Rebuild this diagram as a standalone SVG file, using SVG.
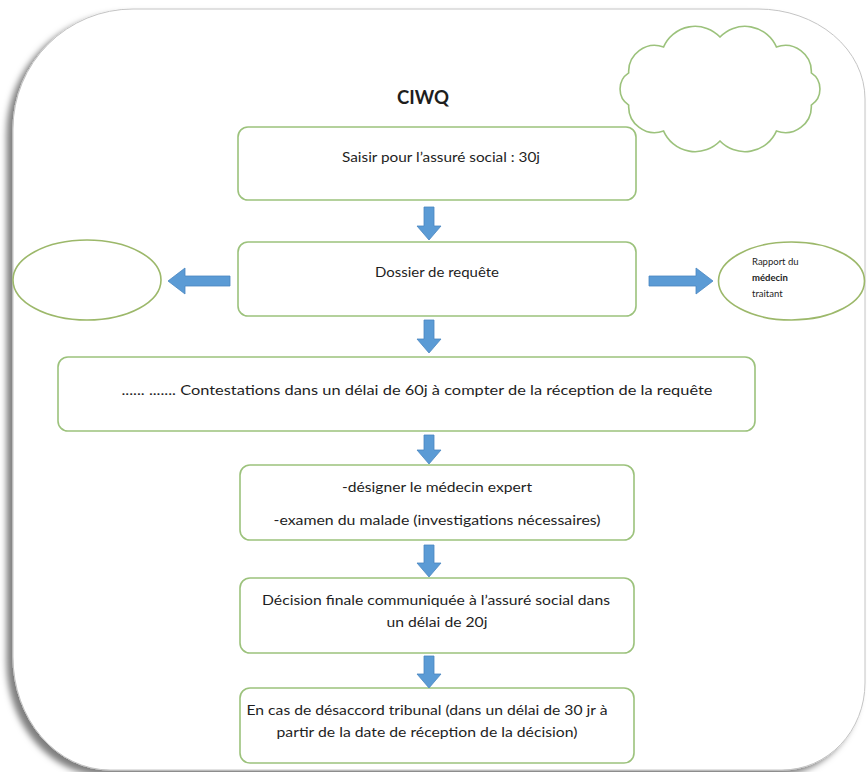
<svg xmlns="http://www.w3.org/2000/svg" width="867" height="772" viewBox="0 0 867 772">
<defs>
<filter id="sh" x="-5%" y="-5%" width="110%" height="110%">
<feDropShadow dx="-6" dy="5" stdDeviation="3" flood-color="#000" flood-opacity="0.5"/>
</filter>
<style>
.box{fill:#fff;stroke:#9cc27c;stroke-width:1.6}
.ell{fill:#fff;stroke:#9cb86a;stroke-width:1.6}
.arr{fill:#5b9bd5;stroke:#4a86c0;stroke-width:0.8}
.t{font-family:Lato,"Liberation Sans",Arial,sans-serif;font-size:14px;fill:#1e1e1e;text-anchor:middle}
.s{font-family:Lato,"Liberation Sans",Arial,sans-serif;font-size:9.5px;fill:#1e1e1e}
</style>
</defs>
<rect width="867" height="772" fill="#fff"/>
<g id="frame">
<path d="M13,129 A120,120 0 0 1 133,9 L758,9 A107,90 0 0 1 865,99 L865,683 A83,87 0 0 1 782,770 L110,770 A97,113 0 0 1 13,657 Z" fill="#fff" stroke="#c4c4c4" stroke-width="1" filter="url(#sh)"/>
</g>
<g id="cloud">
<path d="M720,37 A34.4,34.4 0 0 1 776.4,46.9 A26.1,26.1 0 0 1 811.3,72.9 A19.3,19.3 0 0 1 811.3,105.1 A26.1,26.1 0 0 1 776.4,131.1 A34.4,34.4 0 0 1 720,141 A34.4,34.4 0 0 1 663.6,131.1 A26.1,26.1 0 0 1 628.7,105.1 A19.3,19.3 0 0 1 628.7,72.9 A26.1,26.1 0 0 1 663.6,46.9 A34.4,34.4 0 0 1 720,37 Z" fill="#fff" stroke="#9cc27c" stroke-width="1.6"/>
</g>
<g id="title">
<text x="423" y="104" font-family="Lato,Liberation Sans,Arial,sans-serif" font-size="18" font-weight="bold" fill="#1e1e1e" text-anchor="middle" textLength="52" lengthAdjust="spacingAndGlyphs">CIWQ</text>
</g>
<g id="n1">
<rect class="box" x="238" y="127" width="398" height="73" rx="10"/>
<text class="t" x="441" y="162" textLength="198" lengthAdjust="spacingAndGlyphs">Saisir pour l’assuré social : 30j</text>
</g>
<g id="n2">
<rect class="box" x="238" y="242" width="398" height="74" rx="10"/>
<text class="t" x="437" y="277" textLength="124" lengthAdjust="spacingAndGlyphs">Dossier de requête</text>
</g>
<g id="n2l">
<ellipse class="ell" cx="87" cy="280" rx="74" ry="40"/>
</g>
<g id="n2r">
<ellipse class="ell" cx="791.5" cy="281" rx="73" ry="39"/>
<text class="s" x="752" y="265">Rapport du</text>
<text class="s" x="752" y="281" font-weight="bold">médecin</text>
<text class="s" x="752" y="297">traitant</text>
</g>
<g id="n3">
<rect class="box" x="58" y="357" width="697" height="74" rx="10"/>
<text class="t" x="417" y="395" textLength="591" lengthAdjust="spacingAndGlyphs">...... ....... Contestations dans un délai de 60j à compter de la réception de la requête</text>
</g>
<g id="n4">
<rect class="box" x="240" y="465" width="394" height="75" rx="10"/>
<text class="t" x="437" y="492" textLength="190" lengthAdjust="spacingAndGlyphs">-désigner le médecin expert</text>
<text class="t" x="437" y="525" textLength="327" lengthAdjust="spacingAndGlyphs">-examen du malade (investigations nécessaires)</text>
</g>
<g id="n5">
<rect class="box" x="240" y="578" width="394" height="75" rx="10"/>
<text class="t" x="436" y="605" textLength="348" lengthAdjust="spacingAndGlyphs">Décision finale communiquée à l’assuré social dans</text>
<text class="t" x="437" y="627" textLength="101" lengthAdjust="spacingAndGlyphs">un délai de 20j</text>
</g>
<g id="n6">
<rect class="box" x="240" y="688" width="394" height="75" rx="10"/>
<text class="t" x="427" y="715" textLength="361" lengthAdjust="spacingAndGlyphs">En cas de désaccord tribunal (dans un délai de 30 jr à</text>
<text class="t" x="427" y="737" textLength="301" lengthAdjust="spacingAndGlyphs">partir de la date de réception de la décision)</text>
</g>
<g id="connectors">
<path class="arr" d="M424,207 h10 v19 h7 l-12,14 l-12,-14 h7 z"/>
<path class="arr" d="M424,320 h10 v19 h7 l-12,14 l-12,-14 h7 z"/>
<path class="arr" d="M424,435 h10 v15 h7 l-12,14 l-12,-14 h7 z"/>
<path class="arr" d="M424,545 h10 v18 h7 l-12,14 l-12,-14 h7 z"/>
<path class="arr" d="M424,656 h10 v18 h7 l-12,14 l-12,-14 h7 z"/>
<path class="arr" d="M230,276 v10 h-45 v8 l-17,-13 l17,-13 v8 z"/>
<path class="arr" d="M649,276 v10 h47 v8 l17,-13 l-17,-13 v8 z"/>
</g>
</svg>
